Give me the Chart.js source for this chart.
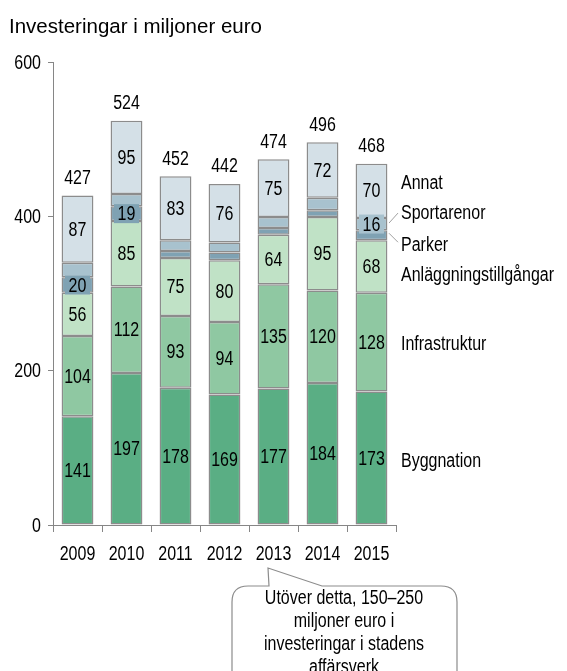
<!DOCTYPE html>
<html>
<head>
<meta charset="utf-8">
<script src="https://cdn.jsdelivr.net/npm/chart.js@4.4.1/dist/chart.umd.min.js"></script>
<style>
  html, body { margin: 0; padding: 0; background: #ffffff; }
  #wrap { width: 567px; height: 671px; }
</style>
</head>
<body>
<div id="wrap"><canvas id="myChart" width="567" height="671"></canvas></div>
<script>
const years = ["2009", "2010", "2011", "2012", "2013", "2014", "2015"];
const byggnation = [141, 197, 178, 169, 177, 184, 173];
const infrastruktur = [104, 112, 93, 94, 135, 120, 128];
const anlaggning = [56, 85, 75, 80, 64, 95, 68];
const parker = [20, 19, 9, 10, 9, 9, 13];
const sportarenor = [19, 16, 14, 13, 14, 16, 16];
const annat = [87, 95, 83, 76, 75, 72, 70];
const totals = [427, 524, 452, 442, 474, 496, 468];
const yTicks = [0, 200, 400, 600];

// which segment values get a label
const allShown = [true, true, true, true, true, true, true];
const parkerShown = [true, true, false, false, false, false, false];
const sportShown = [false, false, false, false, false, false, true];

const FONT = "'Liberation Sans', Arial, sans-serif";
const edge = "#8c8c8c";

// Arial Narrow look-alike: squeeze Liberation Sans sideways
function narrowText(ctx, text, x, y, align, size) {
  ctx.save();
  ctx.translate(x, y);
  ctx.scale(0.8, 1);
  ctx.font = size + "px " + FONT;
  ctx.textAlign = align;
  ctx.textBaseline = "middle";
  ctx.fillStyle = "#000";
  ctx.fillText(text, 0, 0);
  ctx.restore();
}

function makeSet(label, data, color, shown, boxed) {
  return {
    label: label,
    data: data,
    backgroundColor: color,
    borderColor: edge,
    borderWidth: 1.5,
    borderSkipped: false,
    stack: "s",
    showLabel: shown,
    boxed: boxed,
  };
}

const extras = {
  id: "extras",
  afterDatasetsDraw(chart) {
    const ctx = chart.ctx;
    const ys = chart.scales.y;
    const xs = chart.scales.x;
    ctx.save();

    // values inside the segments
    chart.data.datasets.forEach(function (ds, di) {
      const meta = chart.getDatasetMeta(di);
      meta.data.forEach(function (bar, i) {
        if (!ds.showLabel[i]) return;
        const cy = (bar.y + bar.base) / 2;
        if (ds.boxed) {
          ctx.fillStyle = ds.backgroundColor;
          ctx.fillRect(bar.x - 12.5, cy - 9.5, 25, 19);
        }
        narrowText(ctx, String(ds.data[i]), bar.x, cy + 1, "center", 20);
      });
    });

    // totals above bars
    const topMeta = chart.getDatasetMeta(chart.data.datasets.length - 1);
    topMeta.data.forEach(function (bar, i) {
      narrowText(ctx, String(totals[i]), bar.x, ys.getPixelForValue(totals[i]) - 17, "center", 20);
    });

    // axis labels
    yTicks.forEach(function (v) {
      narrowText(ctx, String(v), 41, ys.getPixelForValue(v) + 1, "right", 20);
    });
    years.forEach(function (t, i) {
      narrowText(ctx, t, xs.getPixelForValue(i), 554, "center", 20);
    });

    // series names next to the last bar
    const last = years.length - 1;
    const offsets = [3, 2, 9, 10, -11, -7];
    chart.data.datasets.forEach(function (ds, di) {
      const bar = chart.getDatasetMeta(di).data[last];
      const cy = (bar.y + bar.base) / 2 + offsets[di];
      narrowText(ctx, ds.label, 401, cy, "left", 20);
    });

    // leader lines for the two thin segments
    ctx.strokeStyle = "#a0a0a0";
    ctx.lineWidth = 1;
    const sBar = chart.getDatasetMeta(4).data[last];
    const pBar = chart.getDatasetMeta(3).data[last];
    const sy = (sBar.y + sBar.base) / 2;
    const py = (pBar.y + pBar.base) / 2;
    ctx.beginPath();
    ctx.moveTo(389, sy - 1);
    ctx.lineTo(398, sy - 11);
    ctx.moveTo(389, py - 2);
    ctx.lineTo(398, py + 7);
    ctx.stroke();

    // title
    ctx.fillStyle = "#000";
    ctx.textAlign = "left";
    ctx.textBaseline = "alphabetic";
    ctx.font = "20.5px " + FONT;
    ctx.fillText("Investeringar i miljoner euro", 9, 33);

    // callout
    const x0 = 232, x1 = 457, y0 = 586, y1 = 700, r = 16;
    ctx.strokeStyle = "#8c8c8c";
    ctx.lineWidth = 1.2;
    ctx.fillStyle = "#fff";
    ctx.beginPath();
    ctx.moveTo(x0 + r, y0);
    ctx.lineTo(269, y0);
    ctx.lineTo(268, 568);
    ctx.lineTo(322, y0);
    ctx.lineTo(x1 - r, y0);
    ctx.quadraticCurveTo(x1, y0, x1, y0 + r);
    ctx.lineTo(x1, y1);
    ctx.lineTo(x0, y1);
    ctx.lineTo(x0, y0 + r);
    ctx.quadraticCurveTo(x0, y0, x0 + r, y0);
    ctx.closePath();
    ctx.fill();
    ctx.stroke();

    const lines = ["Utöver detta, 150–250", "miljoner euro i", "investeringar i stadens", "affärsverk"];
    lines.forEach(function (t, k) {
      narrowText(ctx, t, 344, 598 + k * 23, "center", 20);
    });
    ctx.restore();
  },
};

const myChart = new Chart(document.getElementById("myChart"), {
  type: "bar",
  data: {
    labels: years,
    datasets: [
      makeSet("Byggnation", byggnation, "#5aae84", allShown, false),
      makeSet("Infrastruktur", infrastruktur, "#8fc8a2", allShown, false),
      makeSet("Anläggningstillgångar", anlaggning, "#c0e2c6", allShown, false),
      makeSet("Parker", parker, "#7fa2b3", parkerShown, true),
      makeSet("Sportarenor", sportarenor, "#a8c2ce", sportShown, true),
      makeSet("Annat", annat, "#d4e0e7", allShown, false),
    ],
  },
  options: {
    responsive: false,
    animation: false,
    layout: { padding: { top: 62, right: 171, bottom: 116, left: 0 } },
    plugins: { legend: { display: false }, tooltip: { enabled: false } },
    datasets: { bar: { categoryPercentage: 1, barPercentage: 0.65 } },
    scales: {
      x: {
        stacked: true,
        grid: { drawOnChartArea: false, tickLength: 7, color: "#868686", offset: true },
        border: { color: "#868686", width: 1 },
        ticks: { display: false },
        afterFit: function (s) { s.height = 30; },
      },
      y: {
        stacked: true,
        min: 0,
        max: 600,
        afterBuildTicks: function (s) { s.ticks = yTicks.map(function (v) { return { value: v }; }); },
        grid: { drawOnChartArea: false, tickLength: 5, color: "#868686" },
        border: { color: "#868686", width: 1 },
        ticks: { display: false },
        afterFit: function (s) { s.width = 53; },
      },
    },
  },
  plugins: [extras],
});
</script>
</body>
</html>
